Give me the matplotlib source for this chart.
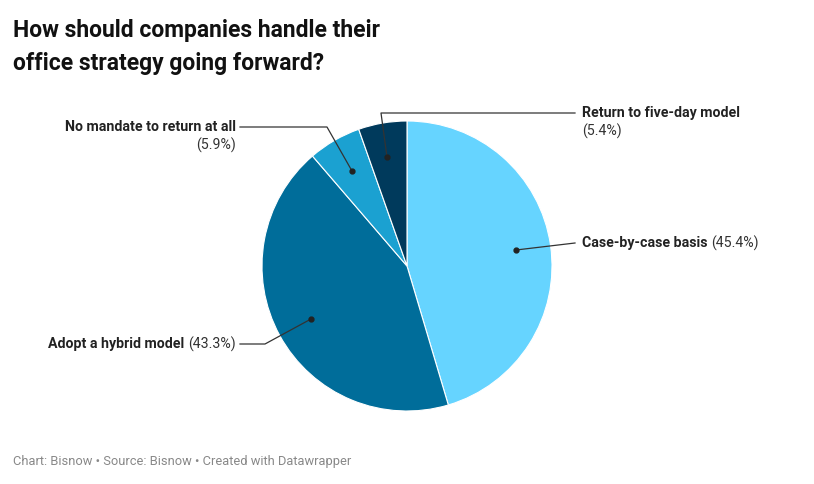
import matplotlib
matplotlib.use('Agg')
import matplotlib.pyplot as plt
import numpy as np

labels = ["Case-by-case basis", "Adopt a hybrid model", "No mandate to return at all", "Return to five-day model"]
values = [45.4, 43.3, 5.9, 5.4]
colors = ["#66d4ff", "#006d9a", "#1ba1d1", "#003a5c"]

plt.rcParams['font.family'] = ['Roboto', 'DejaVu Sans']
W, H = 814, 484
fig = plt.figure(figsize=(W / 100, H / 100), dpi=100)
ax = fig.add_axes([0, 0, 1, 1])
ax.set_xlim(0, W)
ax.set_ylim(H, 0)
ax.axis('off')

cx, cy, r = 407, 266, 145
# y axis is inverted, so counterclock=True draws clockwise on screen
ax.pie(values, colors=colors, startangle=-90, counterclock=True, center=(cx, cy), radius=r,
       wedgeprops=dict(edgecolor='white', linewidth=0.8), frame=True)
ax.set_xlim(0, W)
ax.set_ylim(H, 0)
ax.set_aspect('auto')
ax.axis('off')

fig.canvas.draw()
rend = fig.canvas.get_renderer()

def px(x, y):
    return ax.transData.inverted().transform(ax.transData.transform((x, y)))

def two_part(x, y, bold, normal, align):
    fs = 10.2
    if align == 'left':
        t = ax.text(x, y, bold, fontsize=fs, fontweight='bold', ha='left', va='center', color='#222')
        bb = t.get_window_extent(rend)
        x2 = bb.x1 / fig.dpi * 100 + 4
        ax.text(x2, y, normal, fontsize=fs, ha='left', va='center', color='#333')
    else:
        t = ax.text(x, y, normal, fontsize=fs, ha='right', va='center', color='#333')
        bb = t.get_window_extent(rend)
        x2 = bb.x0 / fig.dpi * 100 - 4
        ax.text(x2, y, bold, fontsize=fs, fontweight='bold', ha='right', va='center', color='#222')

lc = '#333333'
# leader lines
ax.plot([516, 575], [250, 243], color=lc, lw=0.9)
ax.plot([311, 265, 240], [319, 344, 344], color=lc, lw=0.9)
ax.plot([352, 327, 240], [171, 127, 127], color=lc, lw=0.9)
ax.plot([387, 381, 575], [157, 113, 113], color=lc, lw=0.9)
for dx, dy in [(516, 250), (311, 319), (352, 171), (387, 157)]:
    ax.plot(dx, dy, 'o', color='#222', ms=3.5)

pct = [f"({v}%)" for v in values]
two_part(582, 243, labels[0], pct[0], 'left')
two_part(236, 344, labels[1], pct[1], 'right')
ax.text(236, 127, labels[2], fontsize=10.2, fontweight='bold', ha='right', va='center', color='#222')
ax.text(236, 145, pct[2], fontsize=10.2, ha='right', va='center', color='#333')
ax.text(582, 113, labels[3], fontsize=10.2, fontweight='bold', ha='left', va='center', color='#222')
ax.text(582, 131, pct[3], fontsize=10.2, ha='left', va='center', color='#333')

fig.text(13 / W, 1 - 30 / H, "How should companies handle their", fontsize=16.5, fontweight='bold', va='center', color='#111')
fig.text(13 / W, 1 - 63 / H, "office strategy going forward?", fontsize=16.5, fontweight='bold', va='center', color='#111')
fig.text(13 / W, 1 - 462 / H, "Chart: Bisnow • Source: Bisnow • Created with Datawrapper", fontsize=9.3, va='center', color='#888')

fig.savefig("out.png", dpi=100)
